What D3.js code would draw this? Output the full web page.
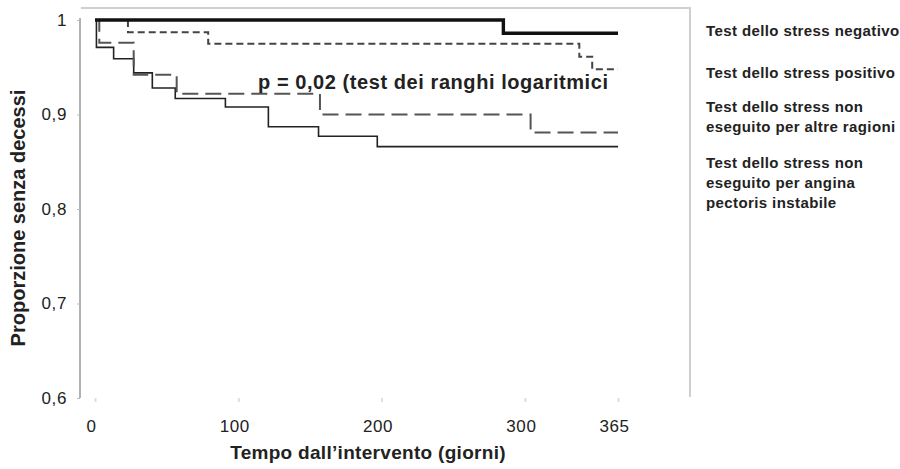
<!DOCTYPE html>
<html>
<head>
<meta charset="utf-8">
<script src="https://cdn.jsdelivr.net/npm/d3@7"></script>
<style>
body { margin: 0; background: #fff; }
svg { font-family: "Liberation Sans", Arial, sans-serif; }
</style>
</head>
<body>
<svg id="main" width="900" height="469"></svg>
<script>
// survival curves (days, proportion alive), step after
var negTimes = [0, 285, 365],
    negVals = [1, 0.986, 0.986];
var posTimes = [0, 23, 79, 338, 347, 365],
    posVals = [1, 0.987, 0.975, 0.961, 0.948, 0.948];
var altTimes = [0, 3, 27, 57, 157, 304, 365],
    altVals = [1, 0.976, 0.942, 0.922, 0.9, 0.881, 0.881];
var angTimes = [0, 1, 13, 27, 40, 56, 91, 121, 156, 197, 365],
    angVals = [1, 0.971, 0.959, 0.944, 0.928, 0.917, 0.908, 0.887, 0.877, 0.866, 0.866];

var xTicks = [0, 100, 200, 300, 365],
    yTicks = [0.6, 0.7, 0.8, 0.9, 1];
var legendLabels = [
    ["Test dello stress negativo"],
    ["Test dello stress positivo"],
    ["Test dello stress non", "eseguito per altre ragioni"],
    ["Test dello stress non", "eseguito per angina", "pectoris instabile"]
];
var pText = "p = 0,02 (test dei ranghi logaritmici";

var svg = d3.select("#main");

var xScale = d3.scaleLinear().domain([0, 365]).range([95, 618]),
    yScale = d3.scaleLinear().domain([0.6, 1]).range([398, 20]);

// frame
svg.append("path")
    .attr("d", "M81,8H690V397")
    .attr("fill", "none")
    .attr("stroke", "#cfcfcf")
    .attr("stroke-width", 2);

// y axis
var yAxis = svg.append("g")
    .attr("transform", "translate(80,0)")
    .call(d3.axisLeft(yScale).tickValues(yTicks).tickSize(3)
        .tickFormat(function(d) { return d === 1 ? "1" : d3.format(".1f")(d).replace(".", ","); }));
yAxis.select(".domain").attr("stroke", "#999").attr("stroke-width", 1.5)
    .attr("d", "M0,18V398");
yAxis.selectAll(".tick line").attr("stroke", "#bbb");
yAxis.selectAll(".tick text")
    .attr("x", -13)
    .attr("font-size", 17)
    .attr("letter-spacing", 0.6)
    .attr("font-family", "Liberation Sans, Arial, sans-serif")
    .attr("fill", "#222");

// x axis (no line, faint ticks)
var xAxis = svg.append("g")
    .attr("transform", "translate(0,398)")
    .call(d3.axisBottom(xScale).tickValues(xTicks).tickSize(4).tickFormat(d3.format("d")));
xAxis.select(".domain").remove();
xAxis.selectAll(".tick line").attr("stroke", "#ddd").attr("stroke-width", 2);
xAxis.selectAll(".tick text")
    .attr("x", -4)
    .attr("y", 22)
    .attr("font-size", 17)
    .attr("letter-spacing", 0.6)
    .attr("font-family", "Liberation Sans, Arial, sans-serif")
    .attr("fill", "#222");

// curves
var line = d3.line()
    .x(function(d) { return xScale(d[0]); })
    .y(function(d) { return yScale(d[1]); })
    .curve(d3.curveStepAfter);

function pairs(t, v) { return t.map(function(d, i) { return [d, v[i]]; }); }

var series = [
    {data: pairs(angTimes, angVals), stroke: "#222", width: 1.6, dash: null},
    {data: pairs(altTimes, altVals), stroke: "#555", width: 2, dash: "16,7"},
    {data: pairs(posTimes, posVals), stroke: "#444", width: 2, dash: "7,4"},
    {data: pairs(negTimes, negVals), stroke: "#111", width: 3.4, dash: null}
];

svg.selectAll("path.km")
    .data(series)
    .enter().append("path")
    .attr("class", "km")
    .attr("fill", "none")
    .attr("stroke", function(d) { return d.stroke; })
    .attr("stroke-width", function(d) { return d.width; })
    .attr("stroke-dasharray", function(d) { return d.dash; })
    .attr("d", function(d) { return line(d.data); });

// p value
svg.append("text")
    .attr("x", 258)
    .attr("y", 89)
    .attr("font-size", 20)
    .attr("font-weight", "bold")
    .attr("textLength", 350)
    .attr("lengthAdjust", "spacing")
    .attr("fill", "#222")
    .text(pText);

// legend (text only)
var legendY = [31, 73, 107, 163];
legendLabels.forEach(function(lines, i) {
    var t = svg.append("text")
        .attr("x", 706)
        .attr("y", legendY[i] + 5)
        .attr("font-size", 15)
        .attr("letter-spacing", 0.4)
        .attr("font-weight", "bold")
        .attr("fill", "#222");
    lines.forEach(function(s, j) {
        t.append("tspan").attr("x", 706).attr("dy", j === 0 ? 0 : 20).text(s);
    });
});

// axis titles
svg.append("text")
    .attr("transform", "translate(25,218) rotate(-90)")
    .attr("text-anchor", "middle")
    .attr("font-size", 20)
    .attr("font-weight", "bold")
    .attr("fill", "#222")
    .text("Proporzione senza decessi");

svg.append("text")
    .attr("x", 368)
    .attr("y", 459)
    .attr("text-anchor", "middle")
    .attr("font-size", 19)
    .attr("letter-spacing", 0.3)
    .attr("font-weight", "bold")
    .attr("fill", "#222")
    .text("Tempo dall\u2019intervento (giorni)");
</script>
</body>
</html>
